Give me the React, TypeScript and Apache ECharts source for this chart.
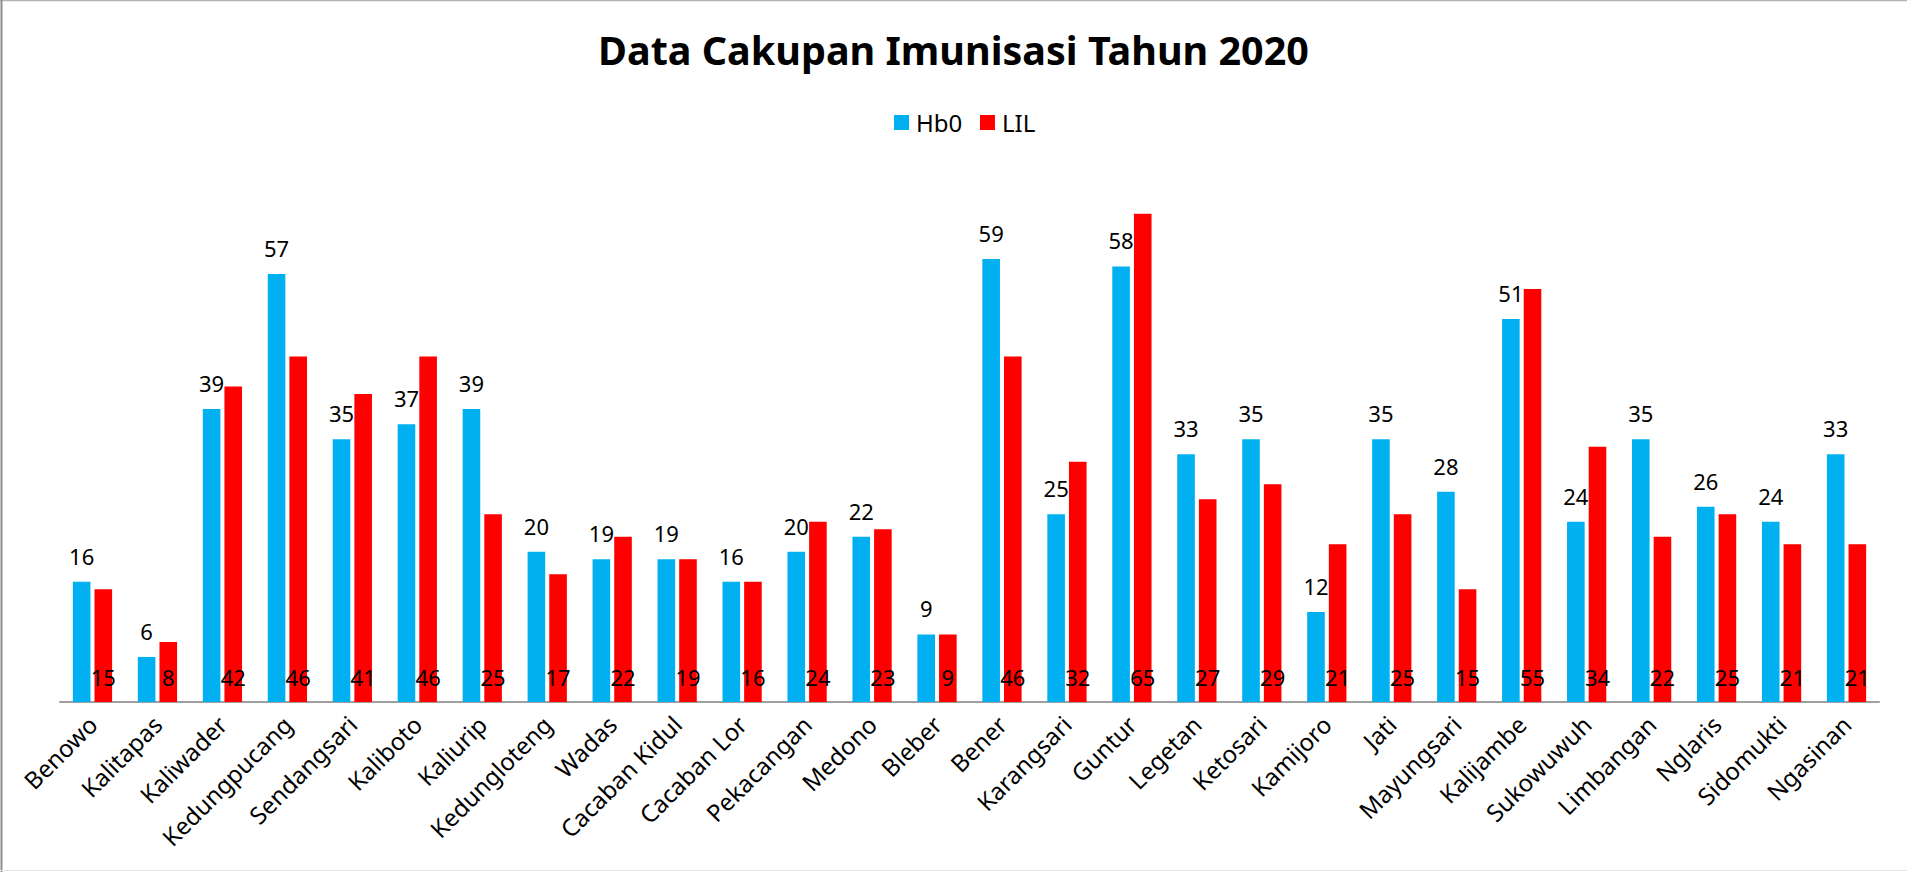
import React, { useEffect, useRef } from "react";
import * as echarts from "echarts";

const categories: string[] = [
  "Benowo", "Kalitapas", "Kaliwader", "Kedungpucang", "Sendangsari", "Kaliboto", "Kaliurip",
  "Kedungloteng", "Wadas", "Cacaban Kidul", "Cacaban Lor", "Pekacangan", "Medono", "Bleber",
  "Bener", "Karangsari", "Guntur", "Legetan", "Ketosari", "Kamijoro", "Jati", "Mayungsari",
  "Kalijambe", "Sukowuwuh", "Limbangan", "Nglaris", "Sidomukti", "Ngasinan",
];
const hb0: number[] = [16, 6, 39, 57, 35, 37, 39, 20, 19, 19, 16, 20, 22, 9, 59, 25, 58, 33, 35, 12, 35, 28, 51, 24, 35, 26, 24, 33];
const lil: number[] = [15, 8, 42, 46, 41, 46, 25, 17, 22, 19, 16, 24, 23, 9, 46, 32, 65, 27, 29, 21, 25, 15, 55, 34, 22, 25, 21, 21];

const titleText = "Data Cakupan Imunisasi Tahun 2020";
const seriesNames = ["Hb0", "LIL"];
const FONT = "'Noto Sans', 'Open Sans', sans-serif";

export default function App() {
  const ref = useRef<HTMLDivElement>(null);
  useEffect(() => {
    document.body.style.margin = "0";
    const chart = echarts.init(ref.current!, null, { renderer: "svg" });
    chart.setOption({
      animation: false,
      backgroundColor: "#ffffff",
      textStyle: { fontFamily: FONT },
      title: {
        text: titleText,
        left: "center",
        top: 30,
        padding: 0,
        textStyle: { fontFamily: FONT, fontWeight: "bold", fontSize: 39.5, color: "#000000" },
      },
      legend: {
        data: seriesNames,
        left: 894,
        top: 110.5,
        padding: 0,
        itemWidth: 15,
        itemHeight: 15,
        itemGap: 17.7,
        icon: "rect",
        textStyle: { fontFamily: FONT, fontSize: 24, color: "#000000", padding: [0, 0, 0, 2] },
      },
      grid: { left: 60, right: 28, top: 176.3, bottom: 170, containLabel: false },
      xAxis: {
        type: "category",
        data: categories,
        axisLine: { lineStyle: { color: "#a0a0a0", width: 2 } },
        axisTick: { show: false },
        axisLabel: {
          interval: 0,
          rotate: 45,
          margin: 18,
          fontFamily: FONT,
          fontSize: 24,
          color: "#000000",
        },
      },
      yAxis: {
        type: "value",
        min: 0,
        max: 70,
        show: false,
        splitLine: { show: false },
      },
      series: [
        {
          name: seriesNames[0],
          type: "bar",
          data: hb0,
          barWidth: 17.6,
          barGap: "23%",
          itemStyle: { color: "#00B0F0" },
          label: {
            show: true,
            position: "top",
            distance: 15,
            fontFamily: FONT,
            fontSize: 22,
            color: "#000000",
          },
        },
        {
          name: seriesNames[1],
          type: "bar",
          data: lil,
          barWidth: 17.6,
          barGap: "23%",
          itemStyle: { color: "#FF0000" },
          label: {
            show: true,
            position: "insideBottom",
            distance: 14,
            fontFamily: FONT,
            fontSize: 22,
            color: "#000000",
          },
        },
      ],
      graphic: [
        { type: "line", shape: { x1: 0, y1: 0.5, x2: 1907, y2: 0.5 }, style: { stroke: "#b4b4b4", lineWidth: 1.5 } },
        { type: "line", shape: { x1: 1.5, y1: 0, x2: 1.5, y2: 872 }, style: { stroke: "#8c8c8c", lineWidth: 2 } },
        { type: "line", shape: { x1: 0, y1: 870.5, x2: 1907, y2: 870.5 }, style: { stroke: "#e6e6e6", lineWidth: 1 } },
      ],
    });
    return () => chart.dispose();
  }, []);
  return <div ref={ref} style={{ width: 1907, height: 872 }} />;
}
